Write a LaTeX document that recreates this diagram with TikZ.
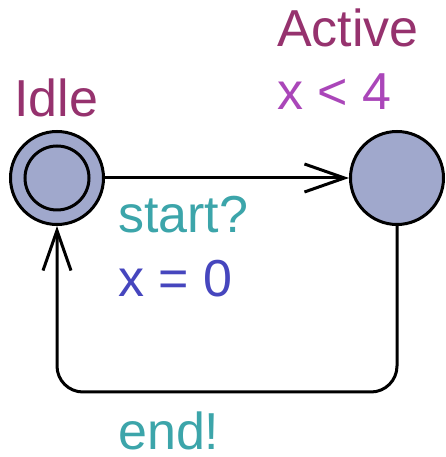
\documentclass[tikz,border=0pt]{standalone}
\usepackage{fontspec}
\setmainfont{Liberation Sans}
\usetikzlibrary{arrows.meta}
\definecolor{locname}{RGB}{150,50,110}
\definecolor{invcol}{RGB}{170,70,185}
\definecolor{synccol}{RGB}{60,165,170}
\definecolor{assigncol}{RGB}{70,70,190}
\definecolor{locfill}{RGB}{160,168,204}
\tikzset{
  loc/.style={circle,draw=black,line width=3pt,fill=locfill,minimum size=93pt,inner sep=0pt},
  inner/.style={circle,draw=black,line width=3pt,minimum size=64pt,inner sep=0pt},
  lbl/.style={anchor=base west,inner sep=0pt,font=\fontsize{52}{62}\selectfont},
  edge/.style={line width=3pt,-{Straight Barb[length=40pt,width=28pt,line width=3pt]}},
}
\begin{document}
\begin{tikzpicture}[x=1pt,y=1pt]
\useasboundingbox (0,0) rectangle (445,457);
\fill[white] (0,0) rectangle (445,457);
\node[loc] (idle) at (57,279) {};
\node[inner] (idlein) at (57,279) {};
\node[loc] (active) at (397,279) {};
\node[lbl,text=locname] (idlelbl) at (14,340) {Idle};
\node[lbl,text=locname] (actlbl) at (277,410) {Active};
\node[lbl,text=invcol] (inv) at (277,347) {x < 4};
\node[lbl,text=synccol] (sync1) at (118,224) {start?};
\node[lbl,text=assigncol] (assign) at (118,160) {x = 0};
\node[lbl,text=synccol] (sync2) at (118,7) {end!};
\coordinate (c1) at (397,65);
\coordinate (c2) at (57,65);
\draw[edge] (idle) -- (active);
\draw[edge,rounded corners=26pt] (active.south) -- (c1) -- (c2) -- (idle.south);
\end{tikzpicture}
\end{document}
